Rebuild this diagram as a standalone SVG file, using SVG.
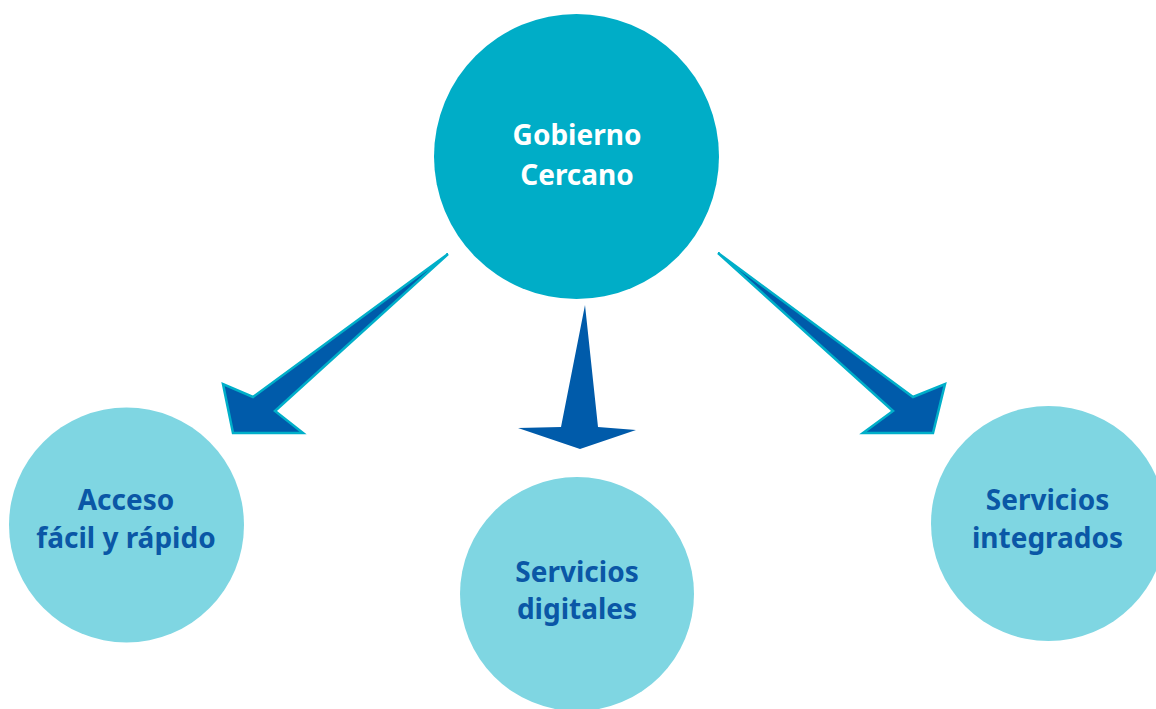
<svg xmlns="http://www.w3.org/2000/svg" width="1156" height="709" viewBox="0 0 1156 709">
<style>
.main{fill:#00ADC7}
.sub{fill:#7FD6E2}
.t{font-family:"Noto Sans","Open Sans","Liberation Sans",sans-serif;font-weight:bold;font-size:28px;text-anchor:middle}
.tw{fill:#FFFFFF}
.tb{fill:#0A57A6}
.arr{fill:#005BAA;stroke:#00AFC9;stroke-width:2.5;stroke-linejoin:miter}
.arr2{fill:#005BAA}
</style>
<rect width="1156" height="709" fill="#FFFFFF"/>
<g id="connectors">
<polygon class="arr" points="448,254 253,397 223,384 233,433 303,433 275,411"/>
<polygon class="arr2" points="585,305 561,427 518,428 580,449 636,430 598,427"/>
<polygon class="arr" points="718,253 913,397 945,384 933,433 863,433 893,411"/>
</g>
<g id="gobierno">
<circle class="main" cx="576.5" cy="156.5" r="142.5"/>
<text class="t tw" x="577" y="145">Gobierno</text>
<text class="t tw" x="577" y="185">Cercano</text>
</g>
<g id="acceso">
<circle class="sub" cx="126.5" cy="525" r="117.5"/>
<text class="t tb" x="126" y="510">Acceso</text>
<text class="t tb" x="126" y="548">fácil y rápido</text>
</g>
<g id="digitales">
<circle class="sub" cx="577" cy="594" r="117"/>
<text class="t tb" x="577" y="582">Servicios</text>
<text class="t tb" x="577" y="619">digitales</text>
</g>
<g id="integrados">
<circle class="sub" cx="1048.5" cy="523.5" r="117.5"/>
<text class="t tb" x="1047.5" y="510">Servicios</text>
<text class="t tb" x="1047.5" y="548">integrados</text>
</g>
</svg>
